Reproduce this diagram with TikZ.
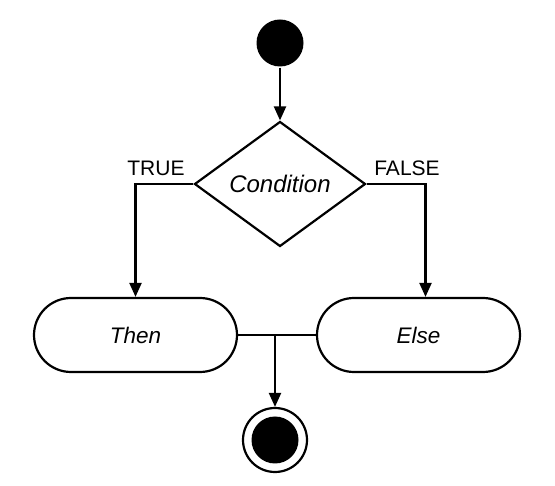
\documentclass[tikz,border=0pt]{standalone}
\usepackage{fontspec}
\setmainfont{Liberation Sans}
\usetikzlibrary{shapes.geometric,arrows.meta}
\begin{document}
\begin{tikzpicture}[x=1pt,y=-1pt,
  line width=2.2pt,
  conn/.style={-{Triangle[length=14pt,width=12pt]}},
  actbox/.style={draw,fill=white,rounded corners=37pt,minimum width=203pt,minimum height=74pt,inner sep=0pt,font=\fontsize{22.5}{26}\selectfont\itshape},
  decbox/.style={draw,fill=white,diamond,shape aspect=1.37,minimum width=171pt,minimum height=125pt,inner sep=0pt,font=\fontsize{24}{27}\selectfont\itshape},
  guard/.style={inner sep=0pt,font=\fontsize{21}{23}\selectfont}]
\useasboundingbox (0,0) rectangle (555,486);
\node[circle,fill=black,minimum size=47pt,inner sep=0pt] (start) at (280,43) {};
\node[decbox] (cond) at (280,184) {Condition};
\node[actbox] (then) at (135.5,335) {Then};
\node[actbox] (else) at (418.5,335) {Else};
\node[circle,draw,fill=white,minimum size=64pt,inner sep=0pt] (end) at (275,440) {};
\node[circle,fill=black,minimum size=47pt,inner sep=0pt] (endin) at (end.center) {};
\node[guard] (tl) at (156,168) {TRUE};
\node[guard] (fl) at (407,168) {FALSE};
\coordinate (fa) at ([xshift=7pt]else.north);
\coordinate (m) at (275,335);
\draw[conn] (start) -- (cond.north);
\draw[conn] (cond.west) -| (then.north);
\draw[conn] (cond.east) -| (fa);
\draw (then.east) -- (else.west);
\draw[conn] (m) -- (end.north);
\end{tikzpicture}
\end{document}
